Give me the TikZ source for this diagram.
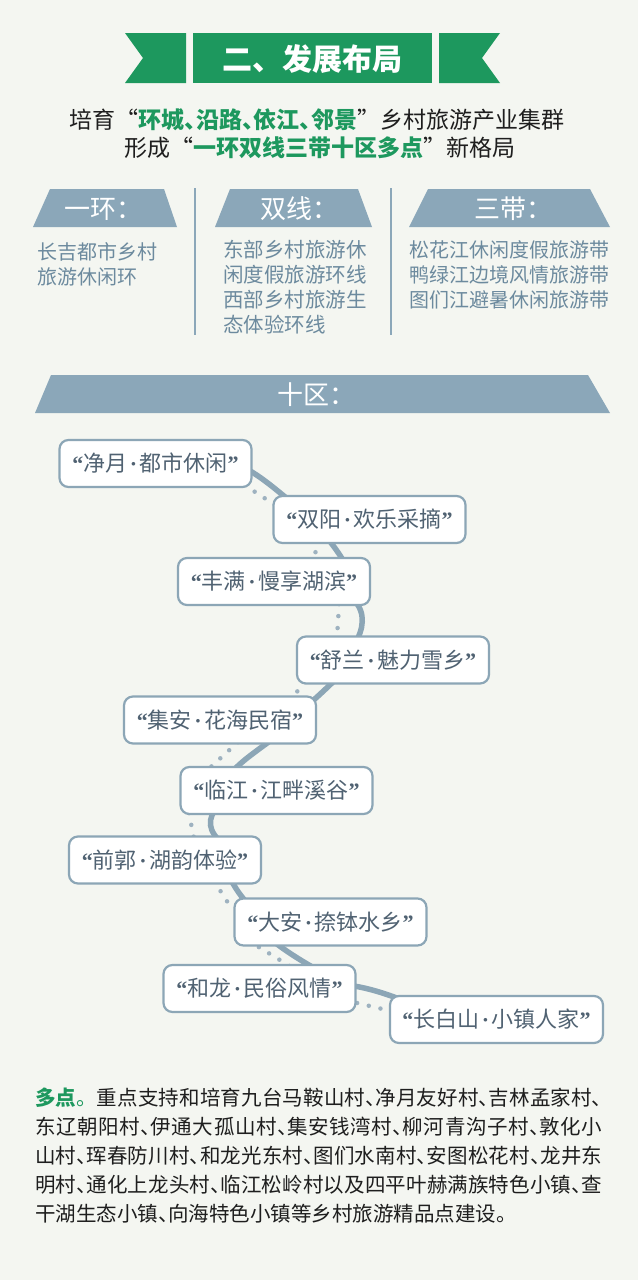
\documentclass[tikz,border=0pt]{standalone}
\usepackage{fontspec}
\setmainfont{Noto Sans CJK SC}
\newfontfamily\qfont{Liberation Serif}
\usepackage{tikz}
\usetikzlibrary{calc}

\definecolor{hgreen}{RGB}{29,152,94}
\definecolor{slate}{RGB}{139,167,185}
\definecolor{coltext}{RGB}{108,138,158}
\definecolor{boxline}{RGB}{140,166,182}
\definecolor{boxtext}{RGB}{80,98,114}
\definecolor{dotcol}{RGB}{158,178,192}
\definecolor{bgcol}{RGB}{244,246,241}
\definecolor{ink}{RGB}{30,30,30}

% half-width comma, narrow quotes and dot
\newcommand{\dun}{\makebox[0.5em][l]{、}}
\newcommand{\openq}{{\qfont\bfseries “}}
\newcommand{\closeq}{{\qfont\bfseries ”}}
\newcommand{\zdot}{\kern2.5pt{\qfont\bfseries ·}\kern2.5pt}

\XeTeXlinebreaklocale "zh"
\XeTeXlinebreakskip=0pt plus 4pt

\pgfdeclarelayer{bg}
\pgfdeclarelayer{links}
\pgfsetlayers{bg,links,main}

\begin{document}
\begin{tikzpicture}[x=1pt,y=1pt,yscale=-1,
  zone/.style={draw=boxline,line width=2.2pt,fill=white,rounded corners=9pt,minimum width=192pt,minimum height=47pt,inner sep=0pt,text=boxtext,font=\fontsize{22}{26}\selectfont},
  link/.style={draw=boxline,line width=5.5pt},
  dotlink/.style={draw=dotcol,line width=4.5pt,line cap=round,dash pattern=on 0pt off 12pt},
  headtxt/.style={text=white,anchor=west,inner sep=0pt,font=\fontsize{26}{30}\selectfont},
  coltxt/.style={text=coltext,anchor=north west,align=left,inner sep=0pt,font=\fontsize{20}{25}\selectfont}]
\useasboundingbox (0,0) rectangle (638,1280);
\begin{pgfonlayer}{bg}
\fill[bgcol] (0,0) rectangle (638,1280);
\end{pgfonlayer}

%Shape: banner
\fill[hgreen] (125,33) -- (186,33) -- (186,83) -- (125,83) -- (143,58) -- cycle;
\fill[hgreen] (193,33) rectangle (432,83);
\fill[hgreen] (500,33) -- (439,33) -- (439,83) -- (500,83) -- (482,58) -- cycle;
% Text Node
\node[text=white,font=\fontsize{30}{36}\selectfont\bfseries] (title) at (312.5,59) {二、发展布局};
% Text Node
\node[text=ink,font=\fontsize{23}{27}\selectfont] (sub1) at (317,120) {培育“\textcolor{hgreen}{\bfseries 环城\dun 沿路\dun 依江\dun 邻景}”乡村旅游产业集群};
\node[text=ink,font=\fontsize{23}{27}\selectfont] (sub2) at (319.5,148) {形成“\textcolor{hgreen}{\bfseries 一环双线三带十区多点}”新格局};

%Shape: headers
\fill[slate] (33,227) -- (50,189) -- (164,189) -- (177,227) -- cycle;
\fill[slate] (215,227) -- (230,189) -- (358,189) -- (372,227) -- cycle;
\fill[slate] (409,227) -- (428,189) -- (590,189) -- (610,227) -- cycle;
\fill[slate] (35,413) -- (51,375) -- (588,375) -- (610,413) -- cycle;
%Straight Lines
\draw[slate,line width=2pt] (195,188) -- (195,335);
\draw[slate,line width=2pt] (391,188) -- (391,335);
% Text Node
\node[headtxt] (ring) at (64,209) {一环：};
\node[headtxt] (lines) at (260,209) {双线：};
\node[headtxt] (belts) at (474,209) {三带：};
\node[headtxt] (areas) at (277,395) {十区：};
% Text Node
\node[coltxt] (ringtxt) at (37,242) {长吉都市乡村\\旅游休闲环};
\node[coltxt,font=\fontsize{20.5}{25}\selectfont] (linestxt) at (223,240) {东部乡村旅游休\\闲度假旅游环线\\西部乡村旅游生\\态体验环线};
\node[coltxt] (beltstxt) at (409,240) {松花江休闲度假旅游带\\鸭绿江边境风情旅游带\\图们江避暑休闲旅游带};

%Shape: zones
\node[zone] (z1) at (155.5,463.5) {\openq 净月\zdot 都市休闲\closeq};
\node[zone] (z2) at (369.5,519.5) {\openq 双阳\zdot 欢乐采摘\closeq};
\node[zone] (z3) at (274,581.5) {\openq 丰满\zdot 慢享湖滨\closeq};
\node[zone] (z4) at (393,660) {\openq 舒兰\zdot 魅力雪乡\closeq};
\node[zone] (z5) at (220,720) {\openq 集安\zdot 花海民宿\closeq};
\node[zone] (z6) at (276.5,790.5) {\openq 临江\zdot 江畔溪谷\closeq};
\node[zone] (z7) at (165,860) {\openq 前郭\zdot 湖韵体验\closeq};
\node[zone] (z8) at (330.5,922) {\openq 大安\zdot 捺钵水乡\closeq};
\node[zone] (z9) at (259.5,988.5) {\openq 和龙\zdot 民俗风情\closeq};
\node[zone,minimum width=213pt] (z10) at (496.5,1019.5) {\openq 长白山\zdot 小镇人家\closeq};

%Curves: links behind the zones
\begin{pgfonlayer}{links}
\draw[link] ($(z1.east)+(-11.5,2.5)$) .. controls +(20,10) and +(-20,-16) .. ($(z2.north west)+(22.5,10)$);
\draw[link] ($(z2.south west)+(48.5,-13)$) .. controls +(10,10) and +(-6,-12) .. ($(z3.north east)+(-22,14)$);
\draw[link] ($(z3.south east)+(-18,-7)$) .. controls +(14,14) and +(8,-14) .. ($(z4.north west)+(59,8.5)$);
\draw[link] ($(z4.south west)+(43,-8.5)$) .. controls +(-12,12) and +(12,-10) .. ($(z5.north east)+(-16,15.5)$);
\draw[link] ($(z5.south east)+(-41,-8.5)$) .. controls +(-12,10) and +(8,-12) .. ($(z6.north west)+(51.5,8)$);
\draw[link] ($(z6.south west)+(39.5,-9)$) .. controls +(-13,12) and +(-15,-12) .. ($(z7.north east)+(-39,8.5)$);
\draw[link] ($(z7.south east)+(-33,-8.5)$) .. controls +(6,12) and +(-10,-10) .. ($(z8.north west)+(17.5,9.5)$);
\draw[link] ($(z8.south west)+(37.5,-7.5)$) .. controls +(14,12) and +(-14,-8) .. ($(z9.north east)+(-37.5,7)$);
\draw[link] ($(z9.east)+(-10.5,-3.5)$) .. controls +(20,2) and +(-20,-8) .. ($(z10.north west)+(18,7)$);
%Dotted Lines
\draw[dotlink] ($(z1.south east)+(-8,-3)$) -- ($(z2.north west)+(2.5,10)$);
\draw[dotlink] ($(z2.south west)+(38.5,-3)$) -- ($(z3.north east)+(-52,4)$);
\draw[dotlink] ($(z3.south east)+(-32,-2)$) -- ($(z4.north west)+(41,3.5)$);
\draw[dotlink] ($(z4.south west)+(9,-2.5)$) -- ($(z5.north east)+(-26,3.5)$);
\draw[dotlink] ($(z5.south)+(18,-2.5)$) -- ($(z6.north west)+(31.5,1)$);
\draw[dotlink] ($(z6.south west)+(9.5,-2)$) -- ($(z7.north east)+(-68,3.5)$);
\draw[dotlink] ($(z7.south east)+(-48,-3.5)$) -- ($(z8.north west)+(-1.5,11.5)$);
\draw[dotlink] ($(z8.south west)+(25.5,0.5)$) -- ($(z9.north east)+(-65.5,3)$);
\draw[dotlink] ($(z9.east)+(0.5,14.5)$) -- ($(z10.west)+(2,-8.5)$);
\end{pgfonlayer}

% Text Node
\node[text=ink,anchor=north west,text width=567pt,align=justify,inner sep=0pt,font=\fontsize{20.5}{29}\selectfont] (points) at (35,1088) {\tolerance=9999 \textcolor{hgreen}{\bfseries 多点}\textcolor{hgreen}{。}重点支持和培育九台马鞍山村\dun 净月友好村\dun 吉林孟家村\dun\linebreak 东辽朝阳村\dun 伊通大孤山村\dun 集安钱湾村\dun 柳河青沟子村\dun 敦化小\linebreak 山村\dun 珲春防川村\dun 和龙光东村\dun 图们水南村\dun 安图松花村\dun 龙井东\linebreak 明村\dun 通化上龙头村\dun 临江松岭村以及四平叶赫满族特色小镇\dun 查\linebreak 干湖生态小镇\dun 向海特色小镇等乡村旅游精品点建设。};
\end{tikzpicture}
\end{document}
